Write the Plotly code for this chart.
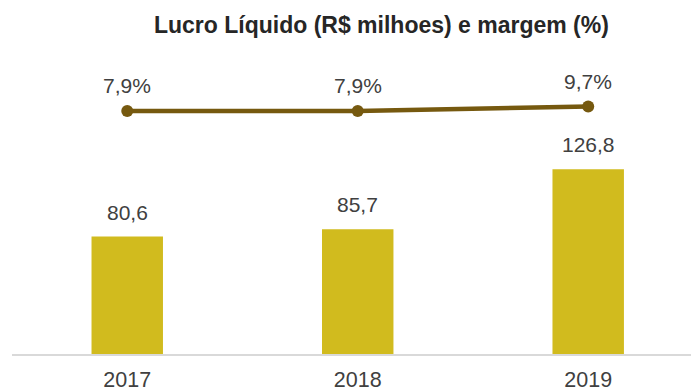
import plotly.graph_objects as go

# Net income (R$ millions) and net margin (%) by year
years = ["2017", "2018", "2019"]
lucro = [80.6, 85.7, 126.8]
margem = [7.9, 7.9, 9.7]

lucro_txt = [f"{v:.1f}".replace(".", ",") for v in lucro]
margem_txt = [f"{v:.1f}".replace(".", ",") + "%" for v in margem]

BAR = "#d1bb1e"
LINE = "#76590f"
TXT = "#404040"
FONT = "Liberation Sans, Arial, sans-serif"

fig = go.Figure()

fig.add_trace(go.Bar(
    x=years, y=lucro, marker=dict(color=BAR, line=dict(width=0)),
    width=0.31, yaxis="y", hoverinfo="skip",
))

fig.add_trace(go.Scatter(
    x=years, y=margem, yaxis="y2", mode="lines+markers",
    line=dict(color=LINE, width=4.5),
    marker=dict(color=LINE, size=12),
    hoverinfo="skip",
))

# value labels; x given as category index (year names look numeric)
annotations = []
for i, (v, t) in enumerate(zip(lucro, lucro_txt)):
    annotations.append(dict(
        x=i, y=v, xref="x", yref="y", text=t, showarrow=False,
        yanchor="bottom", yshift=11, font=dict(size=21, color=TXT, family=FONT),
    ))
for i, (v, t) in enumerate(zip(margem, margem_txt)):
    annotations.append(dict(
        x=i, y=v, xref="x", yref="y2", text=t, showarrow=False,
        yanchor="bottom", yshift=12, font=dict(size=21, color=TXT, family=FONT),
    ))

hidden = dict(showticklabels=False, showline=False, showgrid=False,
              zeroline=False, ticks="", automargin=False)

fig.update_layout(
    width=691, height=391,
    margin=dict(l=12, r=0, t=0, b=37),
    paper_bgcolor="white", plot_bgcolor="white",
    showlegend=False,
    font=dict(family=FONT, color=TXT),
    title=dict(
        text="<b>Lucro Líquido (R$ milhoes) e margem (%)</b>",
        x=0.552, xanchor="center", y=0.935, yanchor="middle",
        font=dict(size=23, color="#262626", family=FONT),
    ),
    xaxis=dict(
        type="category", range=[-0.5, 2.446], automargin=False,
        showline=True, linecolor="#d9d9d9", linewidth=1.5,
        showgrid=False, zeroline=False, ticks="",
        tickfont=dict(size=21.5, color=TXT, family=FONT),
        ticklabelstandoff=5,
    ),
    yaxis=dict(range=[0, 243], **hidden),
    yaxis2=dict(range=[-89.3, 52.3], overlaying="y", **hidden),
    annotations=annotations,
)

fig.write_html("out.html")
